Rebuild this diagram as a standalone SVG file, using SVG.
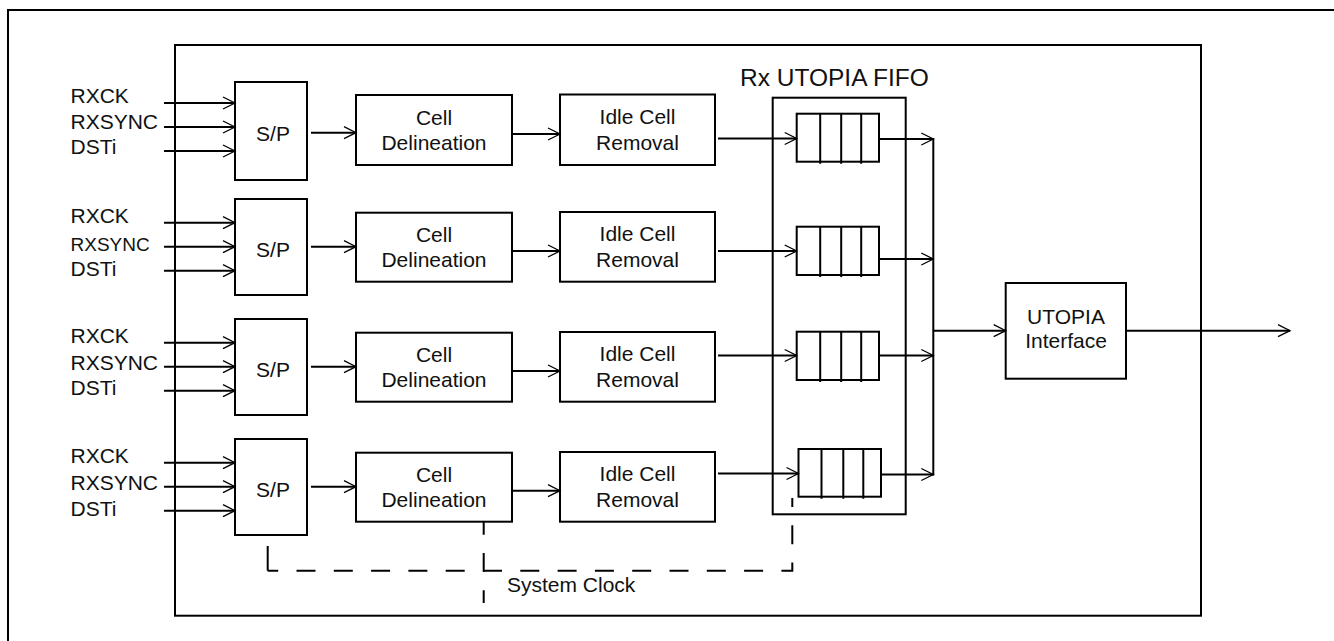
<svg xmlns="http://www.w3.org/2000/svg" width="1334" height="641" viewBox="0 0 1334 641">
<defs>
<marker id="arr" markerUnits="userSpaceOnUse" markerWidth="14" markerHeight="14" refX="12" refY="6" orient="auto" overflow="visible"><path d="M0,0 L12,6 L0,12" fill="none" stroke="#000" stroke-width="1.3"/></marker>
</defs>
<style>
.box{fill:none;stroke:#000;stroke-width:2}
.ln{fill:none;stroke:#000;stroke-width:2}
.ar{marker-end:url(#arr)}
.t{font-family:"Liberation Sans",Arial,sans-serif;font-size:21px;fill:#111}
.c{text-anchor:middle}
.d{fill:none;stroke:#000;stroke-width:2;stroke-dasharray:19 18.3}
</style>
<rect width="1334" height="641" fill="#fff"/>
<g id="frame">
<path class="ln" d="M8,641 V10 H1334"/>
</g>
<g id="rx-block">
<rect class="box" x="175" y="45" width="1026" height="570.7"/>
</g>
<g id="fifo">
<rect class="box" x="772.7" y="97.7" width="133" height="416.6"/>
<text class="t" x="740" y="86" style="font-size:24.5px">Rx UTOPIA FIFO</text>
</g>
<g id="labels">
<text class="t" x="70.5" y="103.3">RXCK</text>
<text class="t" x="70.5" y="129.3">RXSYNC</text>
<text class="t" x="70.5" y="154">DSTi</text>
<text class="t" x="70.5" y="223.3">RXCK</text>
<text class="t" x="70.5" y="251" style="font-size:19px">RXSYNC</text>
<text class="t" x="70.5" y="276">DSTi</text>
<text class="t" x="70.5" y="343.3">RXCK</text>
<text class="t" x="70.5" y="370">RXSYNC</text>
<text class="t" x="70.5" y="395">DSTi</text>
<text class="t" x="70.5" y="463.3">RXCK</text>
<text class="t" x="70.5" y="490">RXSYNC</text>
<text class="t" x="70.5" y="516">DSTi</text>
</g>
<g id="sp1"><rect class="box" x="235" y="82" width="72" height="98"/><text class="t c" x="273" y="140.5">S/P</text></g>
<g id="sp2"><rect class="box" x="235" y="199" width="72" height="96"/><text class="t c" x="273" y="256.5">S/P</text></g>
<g id="sp3"><rect class="box" x="235" y="319" width="72" height="96"/><text class="t c" x="273" y="376.5">S/P</text></g>
<g id="sp4"><rect class="box" x="235" y="439" width="72" height="96"/><text class="t c" x="273" y="496.5">S/P</text></g>
<g id="cd1"><rect class="box" x="356" y="95" width="156" height="70"/><text class="t c" x="434" y="124.5">Cell</text><text class="t c" x="434" y="150">Delineation</text></g>
<g id="cd2"><rect class="box" x="356" y="212.7" width="156" height="69"/><text class="t c" x="434" y="241.7">Cell</text><text class="t c" x="434" y="267.2">Delineation</text></g>
<g id="cd3"><rect class="box" x="356" y="332.7" width="156" height="69"/><text class="t c" x="434" y="361.7">Cell</text><text class="t c" x="434" y="387.2">Delineation</text></g>
<g id="cd4"><rect class="box" x="356" y="452.7" width="156" height="69"/><text class="t c" x="434" y="481.7">Cell</text><text class="t c" x="434" y="507.2">Delineation</text></g>
<g id="icr1"><rect class="box" x="560" y="94.5" width="155" height="70.5"/><text class="t c" x="637.5" y="124">Idle Cell</text><text class="t c" x="637.5" y="149.5">Removal</text></g>
<g id="icr2"><rect class="box" x="560" y="212" width="155" height="69.7"/><text class="t c" x="637.5" y="241">Idle Cell</text><text class="t c" x="637.5" y="266.5">Removal</text></g>
<g id="icr3"><rect class="box" x="560" y="332" width="155" height="69.7"/><text class="t c" x="637.5" y="361">Idle Cell</text><text class="t c" x="637.5" y="386.5">Removal</text></g>
<g id="icr4"><rect class="box" x="560" y="452" width="155" height="69.7"/><text class="t c" x="637.5" y="481">Idle Cell</text><text class="t c" x="637.5" y="506.5">Removal</text></g>
<g id="q1"><rect class="box" x="796.7" y="113.7" width="82.3" height="48"/><path class="ln" d="M820.2,113.7 V163.7 M841.2,113.7 V163.7 M861.2,113.7 V163.7"/></g>
<g id="q2"><rect class="box" x="796.7" y="226.7" width="82.3" height="48.3"/><path class="ln" d="M820.2,226.7 V277 M841.2,226.7 V277 M861.2,226.7 V277"/></g>
<g id="q3"><rect class="box" x="796.7" y="331.7" width="82.3" height="48.3"/><path class="ln" d="M820.2,331.7 V382 M841.2,331.7 V382 M861.2,331.7 V382"/></g>
<g id="q4"><rect class="box" x="798.5" y="449" width="82.5" height="47.7"/><path class="ln" d="M821.5,449 V498.7 M843.3,449 V498.7 M863.3,449 V498.7"/></g>
<g id="utopia"><rect class="box" x="1005.7" y="283" width="120.3" height="95.7"/><text class="t c" x="1066" y="324">UTOPIA</text><text class="t c" x="1066" y="347.7">Interface</text></g>
<g id="clock">
<path class="ln" d="M267.7,546 V570.7"/>
<path class="d" style="stroke-dashoffset:8.5" d="M267.7,570.7 H792.3 V498"/>
<path class="d" style="stroke-dashoffset:6.3" d="M483.7,522 V603"/>
<text class="t" x="507" y="591.7">System Clock</text>
</g>
<g id="connectors">
<path class="ln ar" d="M164,103 H235"/><path class="ln ar" d="M164,127 H235"/><path class="ln ar" d="M164,151 H235"/>
<path class="ln ar" d="M164,222.7 H235"/><path class="ln ar" d="M164,246.7 H235"/><path class="ln ar" d="M164,270.7 H235"/>
<path class="ln ar" d="M164,342.7 H235"/><path class="ln ar" d="M164,366.7 H235"/><path class="ln ar" d="M164,390.7 H235"/>
<path class="ln ar" d="M164,462.7 H235"/><path class="ln ar" d="M164,486.7 H235"/><path class="ln ar" d="M164,510.7 H235"/>
<path class="ln ar" d="M311,132.7 H356"/><path class="ln ar" d="M311,246.7 H356"/><path class="ln ar" d="M311,366.7 H356"/><path class="ln ar" d="M311,486.7 H356"/>
<path class="ln ar" d="M512,134 H560"/><path class="ln ar" d="M512,251 H560"/><path class="ln ar" d="M512,371 H560"/><path class="ln ar" d="M512,490.7 H560"/>
<path class="ln ar" d="M718,138.5 H796.7"/><path class="ln ar" d="M718,251 H796.7"/><path class="ln ar" d="M718,355.5 H796.7"/><path class="ln ar" d="M718,473.5 H798.5"/>
<path class="ln ar" d="M879,139 H933.3"/><path class="ln ar" d="M879,259 H933.3"/><path class="ln ar" d="M879,355.5 H933.3"/><path class="ln ar" d="M881,474.5 H933.3"/>
<path class="ln" d="M933.3,138 V475.5"/>
<path class="ln ar" d="M933.3,330.7 H1005.7"/>
<path class="ln ar" d="M1126,330.7 H1290"/>
</g>
</svg>
